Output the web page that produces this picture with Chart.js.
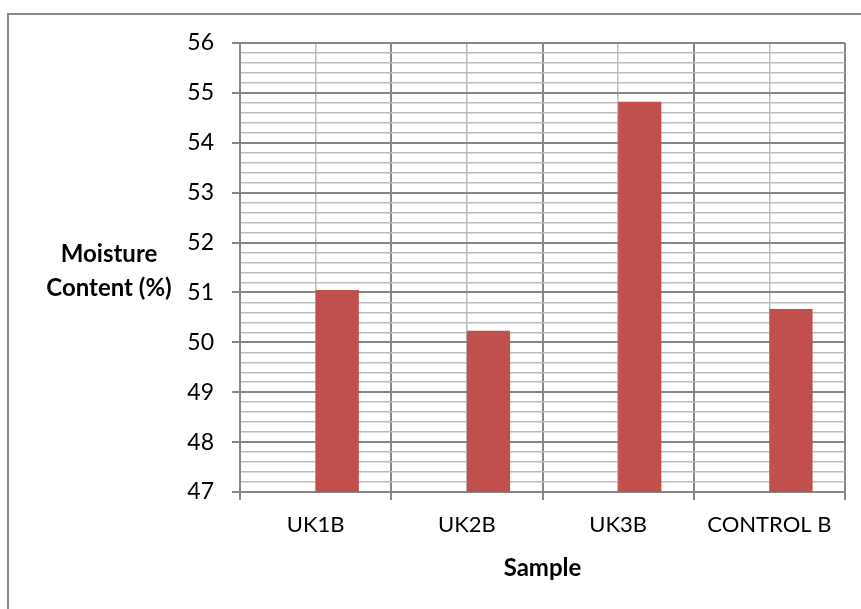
<!DOCTYPE html>
<html>
<head>
<meta charset="utf-8">
<script src="https://cdn.jsdelivr.net/npm/chart.js@4"></script>
<style>
  html, body { margin: 0; padding: 0; background: #fff; overflow: hidden; }
  #frame {
    position: absolute; left: 7px; top: 13px; width: 900px; height: 700px;
    border-top: 2px solid #8a8a8a; border-left: 2px solid #8a8a8a;
  }
  #chart { position: absolute; left: 0; top: 0; }
</style>
</head>
<body>
<div id="frame"></div>
<canvas id="chart" width="861" height="609"></canvas>
<script>
// values
const samples = ['UK1B', 'UK2B', 'UK3B', 'CONTROL B'];
const moisture = [51.05, 50.23, 54.82, 50.67];
const blank = [null, null, null, null]; // empty first series, pushes the bars right of centre
const yTitle = ['Moisture', 'Content (%)'];
const xTitle = 'Sample';

const FONT = 'Lato, "Liberation Sans", sans-serif';
const MAJOR = '#878787';
const MINOR = '#bcbcbc';
const isWhole = v => Math.abs(v - Math.round(v)) < 1e-6;

// y title sits horizontal, left of the tick labels
const yTitlePlugin = {
    id: 'yTitle',
    afterDraw(chart) {
        const { ctx, chartArea } = chart;
        const cx = chartArea.left - 131;
        const cy = (chartArea.top + chartArea.bottom) / 2 + 4;
        ctx.save();
        ctx.font = 'bold 24px ' + FONT;
        ctx.fillStyle = '#000';
        ctx.textAlign = 'center';
        ctx.textBaseline = 'middle';
        ctx.fillText(yTitle[0], cx, cy - 17);
        ctx.fillText(yTitle[1], cx, cy + 17);
        ctx.restore();
    }
};

new Chart(document.getElementById('chart'), {
    type: 'bar',
    data: {
        labels: samples,
        datasets: [
            { label: 'blank', data: blank, backgroundColor: '#c0504d' },
            { label: 'Moisture', data: moisture, backgroundColor: '#c0504d' }
        ]
    },
    options: {
        responsive: false,
        animation: false,
        categoryPercentage: 2 / 3.5,
        barPercentage: 1,
        layout: { padding: { left: 0, right: 16, top: 43, bottom: 0 } },
        plugins: { legend: { display: false }, tooltip: { enabled: false } },
        scales: {
            x: {
                position: 'bottom',
                grid: { offset: true, color: MAJOR, lineWidth: 2, tickLength: 8, tickColor: MAJOR, tickWidth: 2 },
                border: { display: true, color: MAJOR, width: 2 },
                ticks: { color: '#000', padding: 12, font: { family: FONT, size: 22 } },
                title: {
                    display: true, text: xTitle, color: '#000',
                    font: { family: FONT, size: 24, weight: 'bold' },
                    padding: { top: 0, bottom: 26 }
                },
                afterFit(scale) { scale.height = 117; }
            },
            x2: {
                type: 'category',
                position: 'bottom',
                grid: { offset: false, color: MINOR, lineWidth: 1.5, drawTicks: false },
                border: { display: false },
                ticks: { display: false },
                afterFit(scale) { scale.height = 0; }
            },
            y: {
                min: 47,
                max: 56,
                grid: {
                    color: c => isWhole(c.tick.value) ? MAJOR : MINOR,
                    lineWidth: c => isWhole(c.tick.value) ? 2 : 1.5,
                    tickLength: 8,
                    tickColor: c => isWhole(c.tick.value) ? MAJOR : 'rgba(0,0,0,0)',
                    tickWidth: 2
                },
                border: { display: true, color: MAJOR, width: 2 },
                ticks: {
                    stepSize: 0.2,
                    autoSkip: false,
                    padding: 18,
                    color: '#000',
                    font: { family: FONT, size: 23 },
                    callback: v => isWhole(v) ? String(Math.round(v)) : ''
                },
                afterFit(scale) { scale.width = 240; }
            }
        }
    },
    plugins: [yTitlePlugin]
});
</script>
</body>
</html>
